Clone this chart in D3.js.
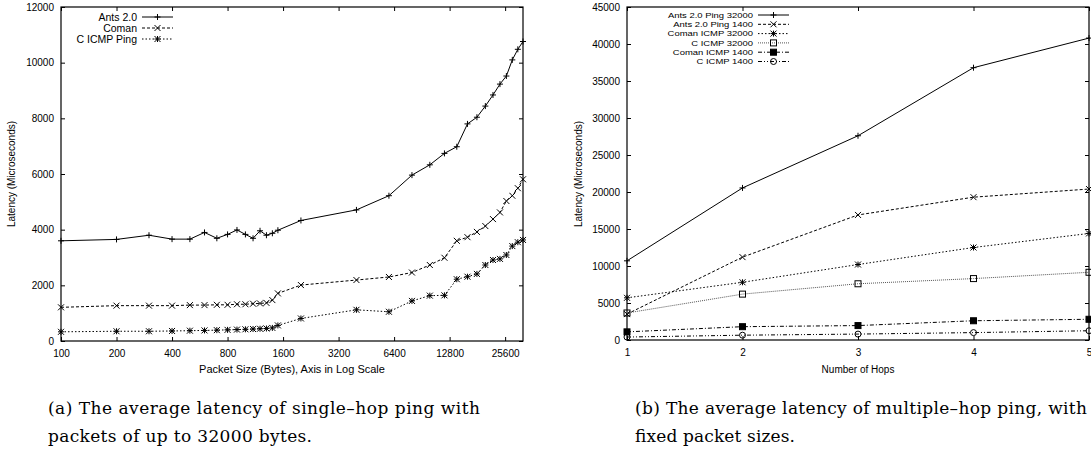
<!DOCTYPE html>
<html>
  <head>
    <style>
      body { margin: 0; background: #fff; }
      text { font-family: 'Liberation Sans', Arial, sans-serif; fill: #000; }
      .tick text { font-size: 10px; }
      .caption { font-family: 'DejaVu Serif', 'Liberation Serif', serif; font-size: 17px; }
    </style>
    <script src="https://d3js.org/d3.v7.min.js"></script>
  </head>
  <body>
    <svg class="chart" width="1091" height="458"></svg>

    <script>
      // ---- data (a): single-hop ping
      const packetSizes = [100, 200, 300, 400, 500, 600, 700, 800, 900, 1000, 1100, 1200, 1300, 1400, 1500,
        2000, 4000, 6000, 8000, 10000, 12000, 14000, 16000, 18000, 20000, 22000, 24000, 26000, 28000, 30000, 32000];
      const antsSingle = [3600, 3650, 3800, 3660, 3660, 3900, 3690, 3830, 3990, 3830, 3690, 3960, 3800, 3870, 3980,
        4330, 4710, 5220, 5960, 6330, 6740, 6980, 7800, 8040, 8440, 8840, 9230, 9520, 10100, 10480, 10760];
      const comanSingle = [1210, 1270, 1270, 1270, 1290, 1290, 1300, 1300, 1320, 1320, 1340, 1350, 1370, 1470, 1710,
        2010, 2190, 2300, 2460, 2730, 2990, 3600, 3730, 3920, 4130, 4380, 4620, 5030, 5220, 5490, 5810];
      const icmpSingle = [330, 350, 350, 360, 370, 380, 390, 400, 410, 420, 430, 440, 450, 470, 560,
        810, 1120, 1050, 1440, 1630, 1640, 2220, 2310, 2410, 2730, 2910, 2950, 3090, 3410, 3550, 3630];
      const sizeTicks = [100, 200, 400, 800, 1600, 3200, 6400, 12800, 25600];
      const latencyTicksA = [0, 2000, 4000, 6000, 8000, 10000, 12000];

      // ---- data (b): multi-hop ping
      const hops = [1, 2, 3, 4, 5];
      const antsPing32000 = [10700, 20550, 27600, 36800, 40800];
      const antsPing1400 = [3500, 11200, 16900, 19300, 20400];
      const comanIcmp32000 = [5700, 7800, 10200, 12500, 14400];
      const cIcmp32000 = [3650, 6200, 7600, 8300, 9150];
      const comanIcmp1400 = [1100, 1800, 1950, 2600, 2800];
      const cIcmp1400 = [400, 650, 800, 1000, 1250];
      const latencyTicksB = [0, 5000, 10000, 15000, 20000, 25000, 30000, 35000, 40000, 45000];

      const svg = d3.select('svg');

      // marker shapes, gnuplot style
      function marker(g, type, x, y) {
        const s = 3;
        if (type === 'plus' || type === 'star') {
          g.append('path').attr('d', `M${x - s},${y}H${x + s}M${x},${y - s}V${y + s}`);
        }
        if (type === 'cross' || type === 'star') {
          g.append('path').attr('d', `M${x - s},${y - s}L${x + s},${y + s}M${x - s},${y + s}L${x + s},${y - s}`);
        }
        if (type === 'box') {
          g.append('rect').attr('x', x - s).attr('y', y - s).attr('width', 2 * s).attr('height', 2 * s).attr('fill', 'none');
        }
        if (type === 'fbox') {
          g.append('rect').attr('x', x - s).attr('y', y - s).attr('width', 2 * s).attr('height', 2 * s).attr('fill', '#000');
        }
        if (type === 'circle') {
          g.append('circle').attr('cx', x).attr('cy', y).attr('r', s).attr('fill', 'none');
        }
      }

      function drawSeries(g, xs, ys, xScale, yScale, st) {
        const pts = xs.map((x, i) => [xScale(x), yScale(ys[i])]);
        g.append('path')
          .attr('d', d3.line()(pts))
          .attr('fill', 'none')
          .attr('stroke', st.color || '#000')
          .attr('stroke-width', 1)
          .attr('stroke-dasharray', st.dash);
        const mg = g.append('g').attr('stroke', '#000').attr('stroke-width', 1);
        pts.forEach(p => marker(mg, st.marker, p[0], p[1]));
      }

      function drawFrame(g, xScale, yScale, xTicks, yTicks) {
        const [x0, x1] = xScale.range();
        const [y0, y1] = yScale.range();
        const tl = 4;
        const bottom = d3.axisBottom(xScale).tickValues(xTicks).tickFormat(d => d).tickSize(-tl).tickPadding(9);
        const top = d3.axisTop(xScale).tickValues(xTicks).tickFormat('').tickSize(-tl);
        const left = d3.axisLeft(yScale).tickValues(yTicks).tickFormat(d => d).tickSize(-tl).tickPadding(7);
        const right = d3.axisRight(yScale).tickValues(yTicks).tickFormat('').tickSize(-tl);
        g.append('g').attr('transform', `translate(0,${y0})`).call(bottom);
        g.append('g').attr('transform', `translate(0,${y1})`).call(top);
        g.append('g').attr('transform', `translate(${x0},0)`).call(left);
        g.append('g').attr('transform', `translate(${x1},0)`).call(right);
        g.selectAll('.domain').remove();
        g.selectAll('.tick line').attr('stroke', '#000');
        g.append('rect').attr('x', x0).attr('y', y1).attr('width', x1 - x0).attr('height', y0 - y1)
          .attr('fill', 'none').attr('stroke', '#000').attr('stroke-width', 1.2);
      }

      // stretch: widen small legend text so it keeps the reference width
      function drawLegend(g, items, xText, xLine0, xLine1, y0, dy, fontSize, stretch) {
        items.forEach((it, i) => {
          const y = y0 + i * dy;
          const t = g.append('text').attr('x', xText).attr('y', y).attr('dy', '0.35em')
            .attr('text-anchor', 'end').style('font-size', fontSize + 'px').text(it.label);
          if (stretch) {
            const w = t.node().getComputedTextLength();
            t.attr('textLength', w * stretch).attr('lengthAdjust', 'spacingAndGlyphs');
          }
          g.append('path').attr('d', `M${xLine0},${y}H${xLine1}`)
            .attr('stroke', it.color || '#000').attr('stroke-dasharray', it.dash).attr('fill', 'none');
          const mg = g.append('g').attr('stroke', '#000');
          marker(mg, it.marker, (xLine0 + xLine1) / 2, y);
        });
      }

      const narrow = "'Liberation Sans Narrow', 'Liberation Sans', sans-serif";

      // ---------- chart (a)
      const gA = svg.append('g');
      const xA = d3.scaleLog().base(2).domain([100, 32000]).range([61, 523]);
      const yA = d3.scaleLinear().domain([0, 12000]).range([341, 7]);
      drawFrame(gA, xA, yA, sizeTicks, latencyTicksA);
      gA.selectAll('.tick text').style('font-family', narrow);

      const stylesA = [
        { label: 'Ants 2.0', ys: antsSingle, dash: null, marker: 'plus' },
        { label: 'Coman', ys: comanSingle, dash: '3,2', marker: 'cross' },
        { label: 'C ICMP Ping', ys: icmpSingle, dash: '1.5,2', marker: 'star' }
      ];
      stylesA.forEach(s => drawSeries(gA, packetSizes, s.ys, xA, yA, s));
      drawLegend(gA, stylesA, 137, 142, 173, 17, 11, 10.5, 0);

      gA.append('text').attr('x', 292).attr('y', 373).attr('text-anchor', 'middle')
        .style('font-size', '11px').style('font-family', narrow)
        .text('Packet Size (Bytes), Axis in Log Scale');
      gA.append('text').attr('transform', 'translate(15,174) rotate(-90)').attr('text-anchor', 'middle')
        .style('font-size', '10px').text('Latency (Microseconds)');

      // ---------- chart (b)
      const gB = svg.append('g');
      const xB = d3.scaleLinear().domain([1, 5]).range([627, 1089]);
      const yB = d3.scaleLinear().domain([0, 45000]).range([340, 7]);
      drawFrame(gB, xB, yB, hops, latencyTicksB);

      const stylesB = [
        { label: 'Ants 2.0 Ping 32000', ys: antsPing32000, dash: null, marker: 'plus' },
        { label: 'Ants 2.0 Ping 1400', ys: antsPing1400, dash: '3,2', marker: 'cross' },
        { label: 'Coman ICMP 32000', ys: comanIcmp32000, dash: '1.5,2', marker: 'star' },
        { label: 'C ICMP 32000', ys: cIcmp32000, dash: '1,1', marker: 'box', color: '#555' },
        { label: 'Coman ICMP 1400', ys: comanIcmp1400, dash: '4,2,1,2', marker: 'fbox' },
        { label: 'C ICMP 1400', ys: cIcmp1400, dash: '4,2,1,2,1,2', marker: 'circle' }
      ];
      stylesB.forEach(s => drawSeries(gB, hops, s.ys, xB, yB, s));
      drawLegend(gB, stylesB, 753, 758, 789, 15, 9.3, 8, 1.18);

      gB.append('text').attr('x', 858).attr('y', 373).attr('text-anchor', 'middle')
        .style('font-size', '10px').style('font-family', narrow)
        .text('Number of Hops');
      gB.append('text').attr('transform', 'translate(582,174) rotate(-90)').attr('text-anchor', 'middle')
        .style('font-size', '10px').text('Latency (Microseconds)');

      // ---------- captions
      const caps = [
        { x: 48, y: 414, w: 432, t: '(a) The average latency of single\u2013hop ping with' },
        { x: 48, y: 442, w: 264, t: 'packets of up to 32000 bytes.' },
        { x: 635, y: 414, w: 452, t: '(b) The average latency of multiple\u2013hop ping, with' },
        { x: 635, y: 442, w: 160, t: 'fixed packet sizes.' }
      ];
      caps.forEach(c => {
        svg.append('text').attr('class', 'caption').attr('x', c.x).attr('y', c.y)
          .attr('textLength', c.w).attr('lengthAdjust', 'spacing').text(c.t);
      });
    </script>
  </body>
</html>
